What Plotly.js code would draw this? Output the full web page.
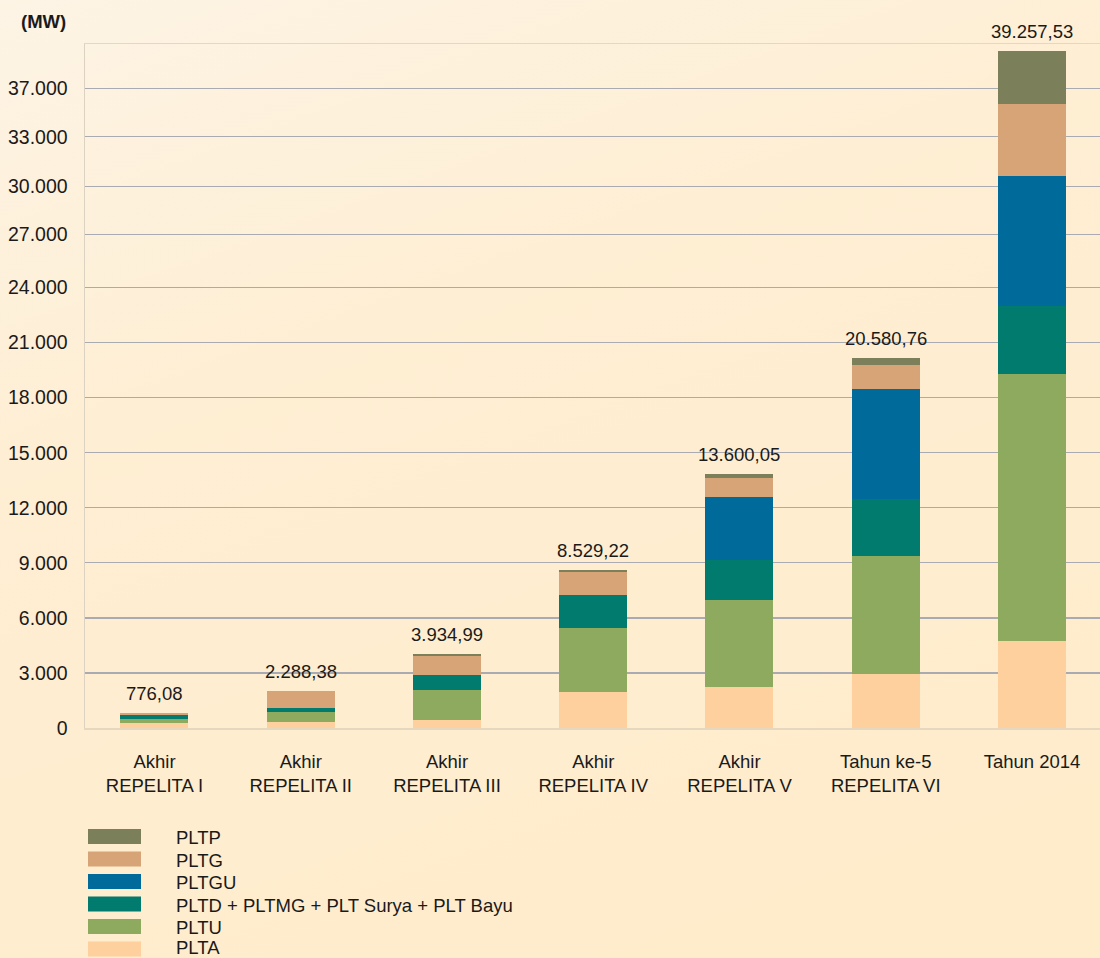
<!DOCTYPE html>
<html>
<head>
<meta charset="utf-8">
<script src="https://cdn.plot.ly/plotly-3.0.1.min.js"></script>
<style>
  html, body { margin: 0; padding: 0; }
  body { width: 1100px; height: 958px; overflow: hidden;
    background: linear-gradient(160deg, #fdf4e5 0%, #feeed3 35%, #feecca 100%); }
  #chart { width: 1100px; height: 958px; }
</style>
</head>
<body>
<div id="chart"></div>
<script>
// ---- data (MW) ----
const categories = [
  'Akhir<br>REPELITA I',
  'Akhir<br>REPELITA II',
  'Akhir<br>REPELITA III',
  'Akhir<br>REPELITA IV',
  'Akhir<br>REPELITA V',
  'Tahun ke-5<br>REPELITA VI',
  'Tahun 2014'
];
const PLTA  = [255, 327, 452, 1961, 2217, 2958, 4755];
const PLTU  = [218, 527, 1634, 3486, 4739, 6427, 14542];
const PLTD  = [236, 218, 817, 1781, 2179, 3105, 3704];
const PLTGU = [0, 0, 0, 0, 3431, 5991, 7097];
const PLTG  = [109, 926, 998, 1253, 1035, 1307, 3905];
const PLTP  = [0, 0, 109, 109, 234, 381, 2887];
const totalLabels = ['776,08', '2.288,38', '3.934,99', '8.529,22', '13.600,05', '20.580,76', '39.257,53'];

const seriesNames = ['PLTA', 'PLTU', 'PLTD + PLTMG + PLT Surya + PLT Bayu', 'PLTGU', 'PLTG', 'PLTP'];
const seriesValues = [PLTA, PLTU, PLTD, PLTGU, PLTG, PLTP];
const seriesColors = ['#fed09e', '#8eaa5f', '#017b6e', '#006b9b', '#d6a477', '#7c805a'];

// y-axis tick labels and where the picture draws them
const tickLabels = ['0', '3.000', '6.000', '9.000', '12.000', '15.000', '18.000', '21.000', '24.000', '27.000', '30.000', '33.000', '37.000'];
const tickPositions = [0, 3000, 6000, 9000, 12000, 15000, 18000, 21000, 24000, 26900, 29520, 32220, 34840];

const FONT = 'Liberation Sans, Arial, Helvetica, sans-serif';

const traces = seriesNames.map((name, i) => ({
  type: 'bar',
  name: name,
  x: categories,
  y: seriesValues[i],
  width: 0.465,
  marker: { color: seriesColors[i], line: { width: 0 } },
  hoverinfo: 'x+y+name',
  showlegend: false
}));

const totals = categories.map((c, j) => seriesValues.reduce((s, arr) => s + arr[j], 0));

const annotations = categories.map((c, j) => ({
  x: c, y: totals[j], xref: 'x', yref: 'y',
  text: totalLabels[j], showarrow: false,
  yanchor: 'bottom', yshift: 7,
  font: { family: FONT, size: 18.5, color: '#1a1a1a' }
}));

// plot box in pixels: left 85, right 1100, top 44, bottom 728
const L = 85, R = 1100, T = 44, B = 728;
const px = v => (v - L) / (R - L);
const py = v => (B - v) / (B - T);

annotations.push({
  xref: 'paper', yref: 'paper', x: px(43), y: py(22),
  text: '<b>(MW)</b>', showarrow: false, xanchor: 'center', yanchor: 'middle',
  font: { family: FONT, size: 18.5, color: '#1a1a1a' }
});

// custom legend (top to bottom: PLTP ... PLTA)
const shapes = [];
const legendOrder = [5, 4, 3, 2, 1, 0];
legendOrder.forEach((si, k) => {
  const cy = 836.5 + k * 22.5;
  shapes.push({
    type: 'rect', xref: 'paper', yref: 'paper',
    x0: px(88), x1: px(141), y0: py(cy + 7.5), y1: py(cy - 7.5),
    fillcolor: seriesColors[si], line: { width: 0 }, layer: 'above'
  });
  annotations.push({
    xref: 'paper', yref: 'paper', x: px(174), y: py(Math.min(cy + 1, 947)),
    text: seriesNames[si], showarrow: false, xanchor: 'left', yanchor: 'middle',
    font: { family: FONT, size: 18.5, color: '#1a1a1a' }
  });
});

const layout = {
  width: 1100, height: 958,
  margin: { l: L, r: 1100 - R, t: T, b: 958 - B, pad: 0 },
  paper_bgcolor: 'rgba(0,0,0,0)',
  plot_bgcolor: 'rgba(0,0,0,0)',
  barmode: 'stack',
  showlegend: false,
  font: { family: FONT, size: 18.5, color: '#1a1a1a' },
  xaxis: {
    type: 'category',
    range: [-0.475, 6.465],
    showgrid: false, zeroline: false,
    showline: true, mirror: true, linecolor: '#e6d8bf', linewidth: 1.5,
    ticks: '', ticklabelstandoff: 16,
    tickfont: { family: FONT, size: 18.5, color: '#1a1a1a' },
    fixedrange: true
  },
  yaxis: {
    range: [0, 37270],
    tickmode: 'array', tickvals: tickPositions, ticktext: tickLabels,
    showgrid: true, gridcolor: '#aaabb2', gridwidth: 1.3,
    zeroline: false,
    showline: true, linecolor: '#dcd2c2', linewidth: 1.5,
    ticks: '', ticklabelstandoff: 12,
    tickfont: { family: FONT, size: 19.5, color: '#1a1a1a' },
    fixedrange: true
  },
  annotations: annotations,
  shapes: shapes
};

Plotly.newPlot('chart', traces, layout, { displayModeBar: false, staticPlot: true });
</script>
</body>
</html>
